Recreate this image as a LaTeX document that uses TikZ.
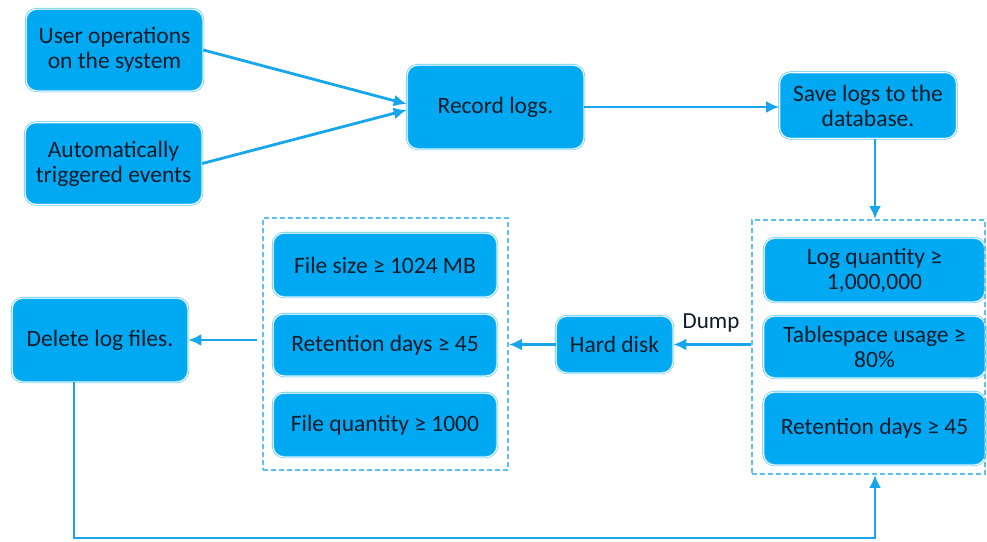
\documentclass[tikz,border=0pt]{standalone}
\usepackage{fontspec}
\setmainfont{Carlito}
\usetikzlibrary{arrows.meta,calc}
\definecolor{boxblue}{HTML}{00A9F2}
\definecolor{edgeblue}{HTML}{4CC4FA}
\definecolor{linkblue}{HTML}{17A6EE}
\definecolor{dashblue}{HTML}{5CC2F5}
\definecolor{txt}{HTML}{0D1B2A}
\begin{document}
\begin{tikzpicture}[x=1pt,y=-1pt,
  bx/.style={draw=edgeblue,double=white,double distance=1pt,line width=0.6pt,fill=boxblue,rounded corners=11pt,
    text=txt,align=center,font=\fontsize{23.5}{25}\selectfont,inner sep=0pt},
  grp/.style={draw=dashblue,dashed,dash pattern=on 5pt off 3pt,line width=1.8pt},
  link/.style={draw=linkblue,line width=2.8pt,-{Latex[length=13pt,width=12pt]}}]
\useasboundingbox (0,0) rectangle (987,541);
\node[bx,minimum width=177pt,minimum height=82pt] (user) at (114.5,50) {User operations\\on the system};
\node[bx,minimum width=177pt,minimum height=82pt] (auto) at (113.5,163.5) {Automatically\\triggered events};
\node[bx,minimum width=177pt,minimum height=84pt] (record) at (495.5,107) {Record logs.};
\node[bx,minimum width=177pt,minimum height=66pt] (save) at (868,105.5) {Save logs to the\\database.};
\node[bx,minimum width=221pt,minimum height=64pt] (logq) at (874.5,270) {Log quantity ≥\\1,000,000};
\node[bx,minimum width=222pt,minimum height=62pt] (tabs) at (874.5,347) {Tablespace usage ≥\\80\%};
\node[bx,minimum width=222pt,minimum height=73pt] (retr) at (874.5,428.5) {Retention days ≥ 45};
\node[bx,minimum width=224pt,minimum height=64pt] (fsize) at (385,265) {File size ≥ 1024 MB};
\node[bx,minimum width=224pt,minimum height=62pt] (retl) at (385,345) {Retention days ≥ 45};
\node[bx,minimum width=224pt,minimum height=64pt] (fq) at (385,425) {File quantity ≥ 1000};
\node[bx,minimum width=117pt,minimum height=57pt] (hard) at (614.5,344.5) {Hard disk};
\node[bx,minimum width=176pt,minimum height=84pt] (del) at (100,340) {Delete log files.};
\node[grp,minimum width=233pt,minimum height=254pt,inner sep=0pt] (gr) at (868.5,347) {};
\node[grp,minimum width=245pt,minimum height=252pt,inner sep=0pt] (gl) at (385.5,344) {};
\node[text=txt,font=\fontsize{23}{25}\selectfont,anchor=center] (dump) at (711,323) {Dump};
\coordinate (bl) at (74,538);
\coordinate (br) at (875,538);
\draw[link] (user.east) -- ($(record.west)+(0,-3)$);
\draw[link] (auto.east) -- ($(record.west)+(0,3)$);
\draw[link] (record.east) -- (save.west|-record.east);
\draw[link] (save.south-|br) -- (gr.north-|br);
\draw[link] (gr.west|-hard.east) -- (hard.east);
\draw[link] (hard.west) -- (gl.east|-hard.west);
\draw[link,shorten <=5pt] (gl.west|-del.east) -- (del.east);
\draw[link] (del.south-|bl) -- (bl) -- (br) -- (gr.south-|br);
\end{tikzpicture}
\end{document}
